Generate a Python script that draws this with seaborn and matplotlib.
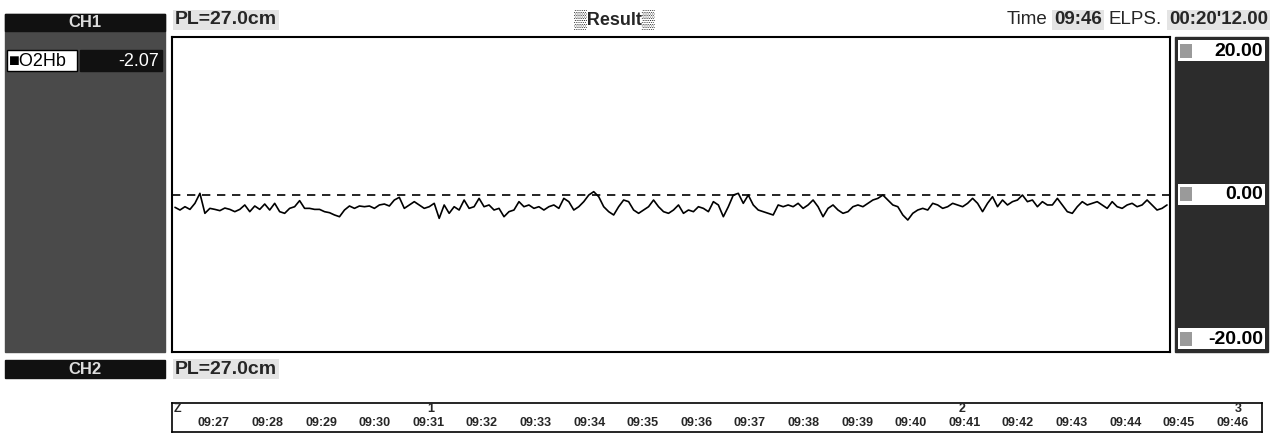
import numpy as np
import pandas as pd
import seaborn as sns
import matplotlib.pyplot as plt
from matplotlib.patches import Rectangle

# CH1 O2Hb trace (left to right, roughly every 5 px)
o2hb_a = [-1.63, -1.97, -1.55, -1.89, -1.12, 0.15, -2.39, -1.76, -1.89, -2.05,
          -1.72, -1.89, -2.18, -1.89, -1.33, -2.18, -1.46, -1.89, -1.21, -1.97,
          -1.12, -2.18, -2.39, -1.76, -1.55, -0.78, -1.76, -1.76, -1.89, -1.89,
          -2.18, -2.31, -2.60, -2.82, -1.97, -1.46, -1.76, -1.46, -1.55, -1.46,
          -1.76, -1.33, -1.21, -1.46, -0.70, -0.36, -1.76, -1.33, -0.91]
o2hb_b = [-1.33, -1.76, -1.55, -1.12, -3.03, -1.33, -2.39, -1.55, -1.97, -0.70,
          -1.76, -1.55, -0.49, -1.55, -1.33, -1.97, -1.76, -2.82, -2.18, -1.97,
          -0.91, -1.55, -1.33, -1.76, -1.55, -1.97, -1.55, -1.33, -1.76, -0.49,
          -0.91, -1.97, -1.55, -0.91, -0.07, 0.36, -0.28, -1.55, -2.18, -2.60,
          -1.55, -0.70, -0.91, -1.97, -2.39, -1.97, -1.55, -0.70, -1.55]
o2hb_c = [-2.18, -2.39, -1.97, -1.33, -2.39, -1.97, -2.18, -1.55, -1.76, -2.18,
          -0.91, -1.33, -2.82, -1.55, -0.07, 0.15, -1.12, -0.07, -1.33, -1.97,
          -2.18, -2.39, -2.60, -1.33, -1.55, -1.33, -1.55, -1.12, -1.76, -1.33,
          -0.70, -1.55, -2.82, -1.76, -1.33, -1.97, -2.39, -2.18, -1.55, -1.33,
          -1.55, -1.12, -0.70, -0.49, -0.07, -0.70, -1.33, -1.55, -2.60, -3.24,
          -2.39, -1.97]
o2hb_d = [-1.76, -1.97, -1.12, -1.33, -1.76, -1.55, -1.12, -1.33, -1.55, -1.12,
          -0.49, -1.12, -2.18, -1.12, -0.28, -1.55, -0.70, -1.33, -0.91, -0.70,
          -0.07, -0.91, -0.70, -1.55, -0.91, -1.33, -1.33, -0.49, -1.33, -2.18,
          -2.39, -1.55, -0.91, -1.33, -1.12, -0.91, -1.33, -1.76, -0.91, -1.55,
          -1.76, -1.33, -1.12, -1.55, -1.33, -0.70, -1.33, -1.97, -1.76, -1.33]

scale_labels = ["20.00", "0.00", "-20.00"]
scale_values = [20.0, 0.0, -20.0]
baseline = 0.0
current_value = "-2.07"
path_length = "PL=27.0cm"
clock_time = "09:46"
elapsed = "00:20'12.00"

time_labels = ["09:27", "09:28", "09:29", "09:30", "09:31", "09:32", "09:33",
               "09:34", "09:35", "09:36", "09:37", "09:38", "09:39", "09:40",
               "09:41", "09:42", "09:43", "09:44", "09:45", "09:46"]
event_labels = ["Z", "1", "2", "3"]
event_minutes = [-0.68, 4.05, 13.95, 19.1]

sns.set_theme(style="white")
plt.rcParams['font.family'] = ['Liberation Sans', 'DejaVu Sans']

W, H = 1273, 440


def box(x0, y0, x1, y1):
    return [x0 / W, 1 - y1 / H, (x1 - x0) / W, (y1 - y0) / H]


fig = plt.figure(figsize=(W / 100, H / 100), dpi=100)
fig.patch.set_facecolor("white")

# background layer in pixel coords for the panel decorations
bg = fig.add_axes([0, 0, 1, 1])
bg.set_xlim(0, W)
bg.set_ylim(H, 0)
bg.axis("off")

# left panel
bg.add_patch(Rectangle((5, 14), 160, 338, color="#4a4a4a"))
bg.add_patch(Rectangle((5, 14), 160, 17, color="#111111"))
bg.text(85, 22.5, "CH1", color="#dddddd", fontsize=12, fontweight="bold", ha="center", va="center")
bg.add_patch(Rectangle((7, 50), 70, 21, facecolor="white", edgecolor="black", lw=1))
bg.text(9, 61, "\u25a0O2Hb", fontsize=13, ha="left", va="center", color="black")
bg.add_patch(Rectangle((80, 50), 82, 21, color="#111111"))
bg.text(159, 61, current_value, fontsize=13, ha="right", va="center", color="white")

bg.add_patch(Rectangle((5, 360), 160, 18, color="#111111"))
bg.text(85, 369, "CH2", color="#dddddd", fontsize=12, fontweight="bold", ha="center", va="center")

# header texts
hl = dict(boxstyle="square,pad=0.1", facecolor="#e4e4e4", edgecolor="none")
bg.text(175, 20, path_length, fontsize=14, fontweight="bold", ha="left", va="center", bbox=hl)
bg.text(175, 369, path_length, fontsize=14, fontweight="bold", ha="left", va="center", bbox=hl)
bg.text(614, 20, "\u2592Result\u2592", fontsize=13, fontweight="bold", ha="center", va="center")

# "Time 09:46 ELPS. 00:20'12.00", laid out right to left
renderer = fig.canvas.get_renderer()
x_right = 1268
pieces = [(elapsed, "bold", hl), ("ELPS.", "normal", None),
          (clock_time, "bold", hl), ("Time", "normal", None)]
for txt, weight, bb in pieces:
    t = bg.text(x_right, 20, txt, fontsize=13.5, fontweight=weight, ha="right",
                va="center", bbox=bb)
    w = t.get_window_extent(renderer=renderer).width
    x_right -= w + 7

# right scale panel
bg.add_patch(Rectangle((1175, 37), 93, 315, color="#2c2c2c"))

# main trace
ax = fig.add_axes(box(172, 37, 1170, 352))
df = pd.DataFrame({"O2Hb": o2hb_a + o2hb_b + o2hb_c + o2hb_d})
df["sample"] = np.arange(len(df))
sns.lineplot(data=df, x="sample", y="O2Hb", ax=ax, color="black", lw=1.2)
ax.axhline(baseline, color="black", lw=1.2, ls=(0, (5, 4)))
ax.set_xlim(-0.6, len(df) - 0.4)
ax.set_ylim(scale_values[-1], scale_values[0])
ax.set_xticks([])
ax.set_yticks([])
ax.set_xlabel("")
ax.set_ylabel("")
ax.set_facecolor("white")
for s in ax.spines.values():
    s.set_color("black")
    s.set_linewidth(1.5)

# scale labels on the right, tied to the trace's y scale
valign = ["top", "center", "bottom"]
for lab, v, va in zip(scale_labels, scale_values, valign):
    yp = H - ax.transData.transform((0, v))[1]
    if va == "top":
        yc = yp + 14
    elif va == "bottom":
        yc = yp - 13
    else:
        yc = yp
    bg.add_patch(Rectangle((1178, yc - 10.5), 87, 21, facecolor="white", edgecolor="none"))
    bg.add_patch(Rectangle((1180, yc - 7), 12, 14, facecolor="#9a9a9a", edgecolor="none"))
    bg.text(1263, yc, lab, fontsize=14, fontweight="bold", ha="right", va="center", color="black")

# time axis strip
tax = fig.add_axes(box(172, 403, 1262, 432))
tax.set_xlim(-0.78, 19.55)
tax.set_ylim(0, 1)
tax.set_xticks([])
tax.set_yticks([])
for s in tax.spines.values():
    s.set_color("black")
    s.set_linewidth(1.2)
for i, lab in enumerate(time_labels):
    tax.text(i, 0.3, lab, fontsize=9, fontweight="bold", ha="center", va="center",
             family=["Liberation Sans Narrow", "Liberation Sans"])
for m, lab in zip(event_minutes, event_labels):
    tax.text(m, 0.8, lab, fontsize=9, fontweight="bold", ha="center", va="center",
             family=["Liberation Sans Narrow", "Liberation Sans"])

fig.savefig("out.png", dpi=100)
